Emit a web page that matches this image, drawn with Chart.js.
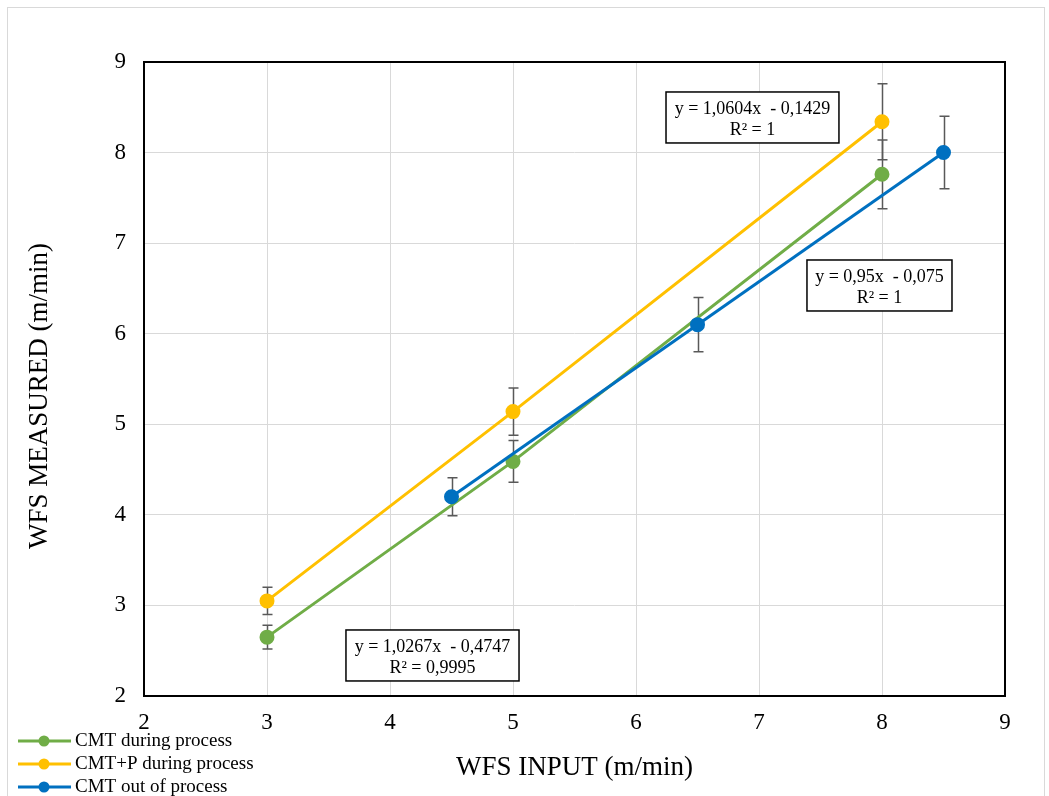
<!DOCTYPE html>
<html><head><meta charset="utf-8">
<script src="https://cdn.jsdelivr.net/npm/chart.js@4/dist/chart.umd.min.js"></script>
<style>html,body{margin:0;padding:0;background:#fff;}#wrap{position:relative;width:1049px;height:796px;}</style>
</head><body><div id="wrap"><canvas id="c" width="1049" height="796"></canvas></div>
<script>
const seriesNames = ['CMT during process', 'CMT+P during process', 'CMT out of process'];
const seriesColors = ['#70AD47', '#FFC000', '#0070C0'];
const greenX = [3, 5, 8];
const greenY = [2.65, 4.59, 7.76];
const greenErr = [0.13, 0.23, 0.38];
const yellowX = [3, 5, 8];
const yellowY = [3.05, 5.14, 8.34];
const yellowErr = [0.15, 0.26, 0.42];
const blueX = [4.5, 6.5, 8.5];
const blueY = [4.2, 6.1, 8.0];
const blueErr = [0.21, 0.3, 0.4];
const xTicks = [2, 3, 4, 5, 6, 7, 8, 9];
const yTicks = [2, 3, 4, 5, 6, 7, 8, 9];
const xTitle = 'WFS INPUT (m/min)';
const yTitle = 'WFS MEASURED (m/min)';
const trendLabels = [
  ['y = 1,0267x  - 0,4747', 'R² = 0,9995'],
  ['y = 1,0604x  - 0,1429', 'R² = 1'],
  ['y = 0,95x  - 0,075', 'R² = 1']
];
// label boxes in data units: [xMin, xMax, yTop, yBottom]
const trendBoxes = [
  [3.642, 5.049, 2.729, 2.166],
  [6.244, 7.65, 8.669, 8.106],
  [7.39, 8.569, 6.814, 6.251]
];
const FONT = "'Liberation Serif', 'Times New Roman', serif";

function pts(xs, ys) { return xs.map((x, i) => ({x: x, y: ys[i]})); }
const errs = [greenErr, yellowErr, blueErr];

const helper = {
  id: 'helper',
  beforeDraw(chart) {
    const ctx = chart.ctx;
    ctx.save();
    ctx.strokeStyle = '#d9d9d9';
    ctx.lineWidth = 1;
    ctx.strokeRect(7.5, 7.5, 1037, 800);
    ctx.restore();
  },
  beforeDatasetsDraw(chart) {
    const ctx = chart.ctx, xs = chart.scales.x, ys = chart.scales.y;
    ctx.save();
    ctx.strokeStyle = '#595959';
    ctx.lineWidth = 1.5;
    chart.data.datasets.forEach((ds, di) => {
      ds.data.forEach((p, i) => {
        const e = errs[di][i];
        const px = Math.round(xs.getPixelForValue(p.x)) + 0.5;
        const t = ys.getPixelForValue(p.y + e), b = ys.getPixelForValue(p.y - e);
        ctx.beginPath();
        ctx.moveTo(px, t); ctx.lineTo(px, b);
        ctx.moveTo(px - 5, t); ctx.lineTo(px + 5, t);
        ctx.moveTo(px - 5, b); ctx.lineTo(px + 5, b);
        ctx.stroke();
      });
    });
    ctx.restore();
  },
  afterDatasetsDraw(chart) {
    const ctx = chart.ctx, xs = chart.scales.x, ys = chart.scales.y, a = chart.chartArea;
    ctx.save();
    ctx.strokeStyle = '#000';
    ctx.lineWidth = 2;
    ctx.strokeRect(a.left, a.top, a.right - a.left, a.bottom - a.top);
    trendBoxes.forEach((bx, i) => {
      const l = xs.getPixelForValue(bx[0]), r = xs.getPixelForValue(bx[1]);
      const t = ys.getPixelForValue(bx[2]), b = ys.getPixelForValue(bx[3]);
      ctx.fillStyle = '#fff';
      ctx.fillRect(l, t, r - l, b - t);
      ctx.strokeStyle = '#000';
      ctx.lineWidth = 1.5;
      ctx.strokeRect(l, t, r - l, b - t);
      ctx.fillStyle = '#000';
      ctx.font = '18px ' + FONT;
      ctx.textAlign = 'center';
      ctx.textBaseline = 'middle';
      const cx = (l + r) / 2, cy = (t + b) / 2;
      ctx.fillText(trendLabels[i][0], cx, cy - 8);
      ctx.fillText(trendLabels[i][1], cx, cy + 13);
    });
    ctx.restore();
  },
  afterDraw(chart) {
    const ctx = chart.ctx, a = chart.chartArea;
    ctx.save();
    // y axis title (sits slightly below the plot centre, as in the reference)
    ctx.fillStyle = '#000';
    ctx.font = '27px ' + FONT;
    ctx.textAlign = 'center';
    ctx.textBaseline = 'middle';
    ctx.translate(40, (a.top + a.bottom) / 2 + 17);
    ctx.rotate(-Math.PI / 2);
    ctx.fillText(yTitle, 0, 0);
    ctx.restore();
    ctx.save();
    ctx.font = '19px ' + FONT;
    ctx.textBaseline = 'middle';
    ctx.textAlign = 'left';
    seriesNames.forEach((n, i) => {
      const y = 741 + i * 23;
      ctx.strokeStyle = seriesColors[i];
      ctx.lineWidth = 3;
      ctx.beginPath(); ctx.moveTo(18, y); ctx.lineTo(71, y); ctx.stroke();
      ctx.fillStyle = seriesColors[i];
      ctx.beginPath(); ctx.arc(44, y, 5.5, 0, Math.PI * 2); ctx.fill();
      ctx.fillStyle = '#000';
      ctx.fillText(n, 75, y);
    });
    ctx.restore();
  }
};

const xData = [greenX, yellowX, blueX], yData = [greenY, yellowY, blueY];
new Chart(document.getElementById('c'), {
  type: 'scatter',
  data: {
    datasets: seriesNames.map((n, i) => ({
      label: n,
      data: pts(xData[i], yData[i]),
      showLine: true,
      borderColor: seriesColors[i],
      backgroundColor: seriesColors[i],
      borderWidth: 3,
      pointRadius: 6,
      pointHoverRadius: 6,
      order: 2 - i
    }))
  },
  options: {
    responsive: false,
    animation: false,
    layout: { padding: { left: 0, top: 62, right: 44, bottom: 0 } },
    plugins: { legend: { display: false }, tooltip: { enabled: false } },
    scales: {
      x: {
        type: 'linear', min: 2, max: 9,
        afterBuildTicks: s => { s.ticks = xTicks.map(v => ({value: v})); },
        afterFit: s => { s.height = 100; },
        grid: { color: '#d9d9d9', lineWidth: 1, drawTicks: false },
        border: { display: false },
        ticks: { color: '#000', font: { family: FONT, size: 23 }, padding: 13 },
        title: { display: true, text: xTitle, color: '#000', font: { family: FONT, size: 27 }, padding: { top: 0, bottom: 12 } }
      },
      y: {
        type: 'linear', min: 2, max: 9,
        afterBuildTicks: s => { s.ticks = yTicks.map(v => ({value: v})); },
        afterFit: s => { s.width = 144; },
        grid: { color: '#d9d9d9', lineWidth: 1, drawTicks: false },
        border: { display: false },
        ticks: { color: '#000', font: { family: FONT, size: 23 }, padding: 18 },
        title: { display: false }
      }
    }
  },
  plugins: [helper]
});
</script></body></html>
